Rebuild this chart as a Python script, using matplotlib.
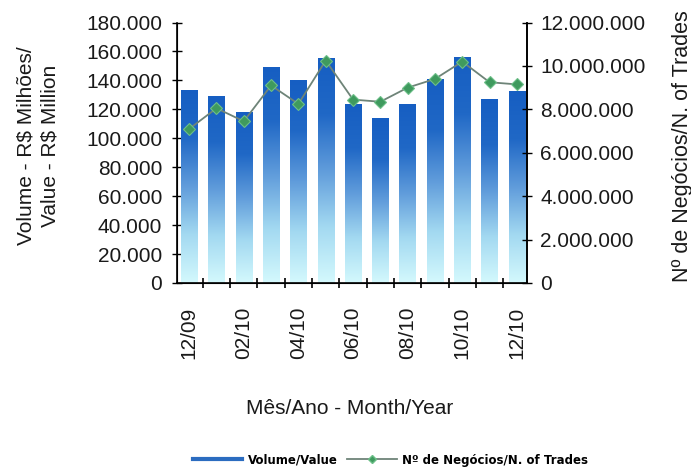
import numpy as np
import matplotlib
matplotlib.use('Agg')
import matplotlib.pyplot as plt
from matplotlib.colors import LinearSegmentedColormap
from matplotlib.lines import Line2D
from matplotlib.ticker import FuncFormatter, MultipleLocator

plt.rcParams['font.family'] = ['Liberation Sans', 'DejaVu Sans']

# data
months = ['12/09', '01/10', '02/10', '03/10', '04/10', '05/10', '06/10',
          '07/10', '08/10', '09/10', '10/10', '11/10', '12/10']
volume = [133500, 129500, 118500, 149500, 140000, 155500, 124000,
          114000, 124000, 141000, 156000, 127000, 132500]
trades = [7100000, 8050000, 7450000, 9100000, 8250000, 10250000, 8450000,
          8350000, 9000000, 9400000, 10200000, 9250000, 9150000]

TXT = '#1a1a1a'


def dot_thousands(v, pos):
    return f"{int(round(v)):,}".replace(',', '.')


fig = plt.figure(figsize=(6.91, 4.70), dpi=100)
fig.patch.set_facecolor('white')
ax = fig.add_axes([0.256, 0.398, 0.507, 0.554])

x = np.arange(len(months))
bars = ax.bar(x, volume, width=0.6, facecolor='none', edgecolor='none', zorder=2)

# vertical gradient inside each bar
cmap = LinearSegmentedColormap.from_list(
    'barfade', ['#d4f9fd', '#a3d9f1', '#609cdb', '#2068c6', '#165ec2'])
grad = np.linspace(0, 1, 256).reshape(-1, 1)
for b in bars:
    x0, w, h = b.get_x(), b.get_width(), b.get_height()
    im = ax.imshow(grad, extent=[x0, x0 + w, 0, h], origin='lower',
                   aspect='auto', cmap=cmap, zorder=2)
    im.set_clip_path(b)

ax.set_xlim(-0.45, len(months) - 1 + 0.38)
ax.set_ylim(0, 180000)
ax.yaxis.set_major_locator(MultipleLocator(20000))
ax.yaxis.set_major_formatter(FuncFormatter(dot_thousands))

ax.set_xticks(x[::2])
ax.set_xticklabels(months[::2], rotation=90, color=TXT)
ax.set_xticks(x[:-1] + 0.5, minor=True)
ax.tick_params(axis='x', which='major', length=0, pad=17, labelsize=15)
ax.tick_params(axis='x', which='minor', direction='inout', length=7, width=1.2)
ax.tick_params(axis='y', direction='inout', length=7, width=1, labelsize=15,
               pad=7, labelcolor=TXT)
ax.spines['top'].set_visible(False)
for s in ['left', 'bottom', 'right']:
    ax.spines[s].set_linewidth(1.2)

ax2 = ax.twinx()
ax2.plot(x, trades, color='#6e8478', linewidth=1.3, marker='D', markersize=6.5,
         markerfacecolor='#3f9a5e', markeredgecolor='#6cbf88', markeredgewidth=0.8,
         zorder=3)
ax2.set_ylim(0, 12000000)
ax2.yaxis.set_major_locator(MultipleLocator(2000000))
ax2.yaxis.set_major_formatter(FuncFormatter(dot_thousands))
ax2.tick_params(axis='y', direction='inout', length=7, width=1, labelsize=15,
                pad=6, labelcolor=TXT)
ax2.spines['top'].set_visible(False)
ax2.spines['right'].set_linewidth(1.2)

fig.text(0.055, 0.69, 'Volume - R$ Milhões/\nValue - R$ Million', rotation=90,
         ha='center', va='center', fontsize=15, multialignment='center',
         linespacing=1.35, color=TXT)
fig.text(0.987, 0.69, 'Nº de Negócios/N. of Trades', rotation=90,
         ha='center', va='center', fontsize=15.5, color=TXT)
fig.text(0.506, 0.13, 'Mês/Ano - Month/Year', ha='center', va='center',
         fontsize=15, color=TXT)

handles = [Line2D([], [], color='#2b6cc0', linewidth=3),
           Line2D([], [], color='#6e8478', linewidth=1.3, marker='D',
                  markersize=4, markerfacecolor='#3f9a5e', markeredgecolor='#6cbf88')]
fig.legend(handles, ['Volume/Value', 'Nº de Negócios/N. of Trades'],
           loc='center', bbox_to_anchor=(0.565, 0.021), ncol=2, frameon=False,
           prop={'family': 'DejaVu Sans', 'size': 8.5, 'weight': 'bold'},
           handlelength=4.2, columnspacing=0.85, handletextpad=0.45,
           borderpad=0, borderaxespad=0)

fig.savefig('out.png', dpi=100)
